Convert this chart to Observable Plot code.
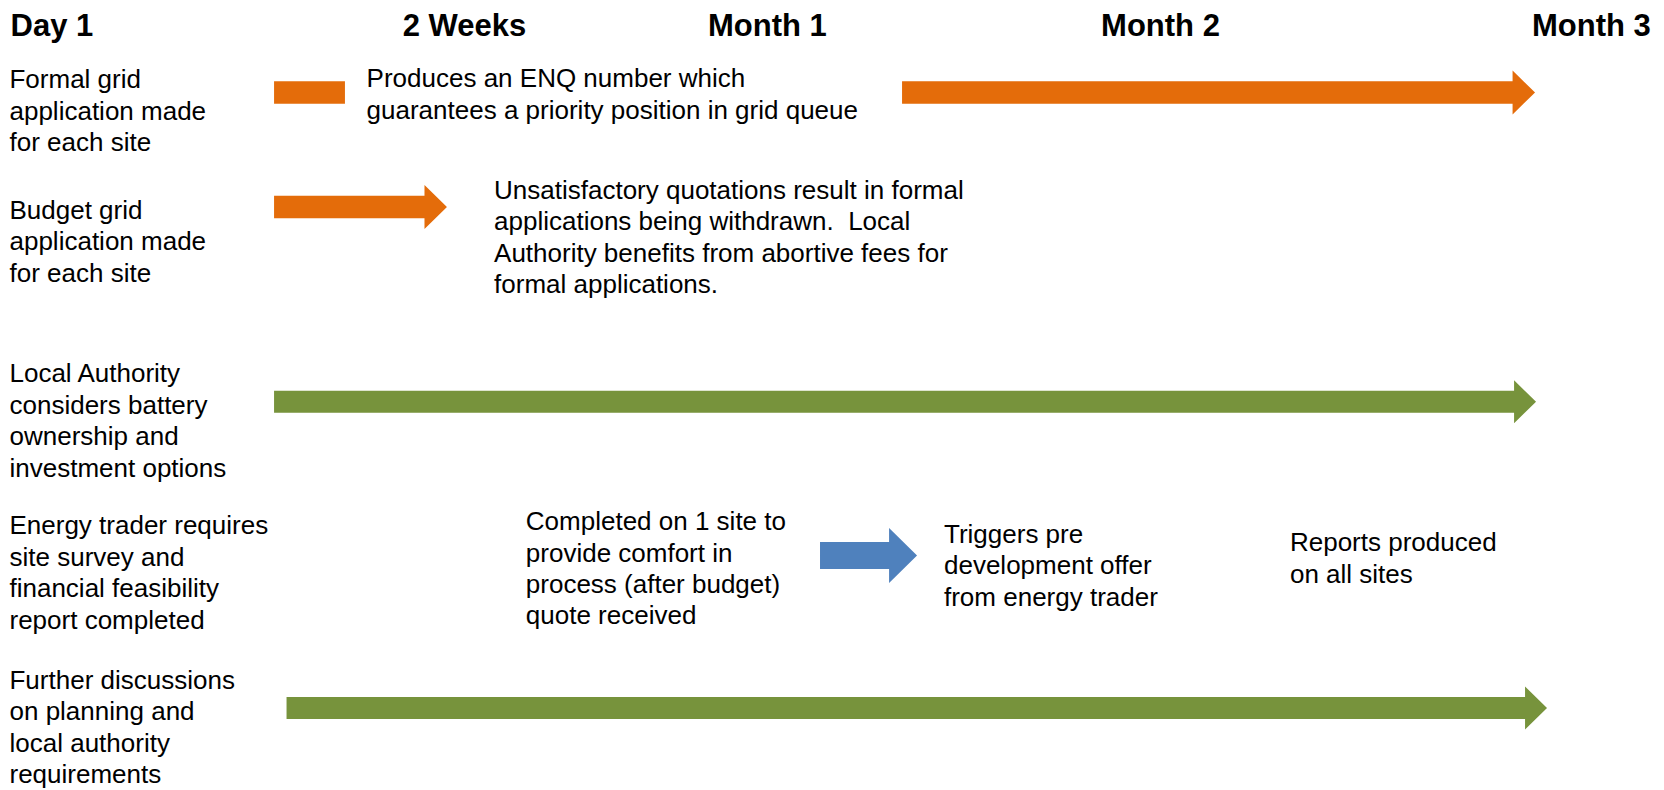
<!DOCTYPE html>
<html>
<head>
<meta charset="utf-8">
<script src="https://cdn.jsdelivr.net/npm/d3@7"></script>
<script src="https://cdn.jsdelivr.net/npm/@observablehq/plot@0.6"></script>
<style>
  html, body { margin: 0; padding: 0; background: #ffffff; }
  #chart svg { display: block; }
</style>
</head>
<body>
<div id="chart"></div>
<script>
// ---- Data (timeline positions as % of slide width / height) ----
const headerLabels = ["Day 1", "2 Weeks", "Month 1", "Month 2", "Month 3"];
const headerX = [3.09, 27.88, 46.09, 69.71, 95.61];

const rowLabels = [
  "Formal grid\napplication made\nfor each site",
  "Budget grid\napplication made\nfor each site",
  "Local Authority\nconsiders battery\nownership and\ninvestment options",
  "Energy trader requires\nsite survey and\nfinancial feasibility\nreport completed",
  "Further discussions\non planning and\nlocal authority\nrequirements"
];
const rowLabelY = [13.84, 30.36, 53.03, 72.27, 91.85];

const noteTexts = [
  "Produces an ENQ number which\nguarantees a priority position in grid queue",
  "Unsatisfactory quotations result in formal\napplications being withdrawn.  Local\nAuthority benefits from abortive fees for\nformal applications.",
  "Completed on 1 site to\nprovide comfort in\nprocess (after budget)\nquote received",
  "Triggers pre\ndevelopment offer\nfrom energy trader",
  "Reports produced\non all sites"
];
const noteX = [22.0, 29.66, 31.57, 56.7, 77.49];
const noteY = [11.69, 29.82, 71.73, 71.33, 70.46];

const arrowStart  = [16.47, 54.21, 16.47, 16.47, 49.28, 17.22];
const arrowEnd    = [20.73, 92.25, 26.86, 92.31, 55.11, 92.97];
const arrowY      = [11.71, 11.71, 26.20, 50.86, 70.32, 89.62];
const arrowSeries = ["grid", "grid", "grid", "planning", "trader", "planning"];
const arrowHasHead = [false, true, true, true, true, true];

// ---- Styles ----
const seriesColor = { grid: "#E46C0A", planning: "#77933C", trader: "#4F81BD" };
const seriesShape = {
  grid:     { body: 1.42, head: 2.78, len: 1.35 },
  planning: { body: 1.40, head: 2.72, len: 1.32 },
  trader:   { body: 1.71, head: 3.48, len: 1.68 }
};
const labelX = 0.54;
const FONT = "'Liberation Sans', Arial, Helvetica, sans-serif";

// ---- Build tables ----
const headers = headerLabels.map((t, i) => ({ text: t, x: headerX[i] }));
const labels = rowLabels.map((t, i) => ({ text: t, y: rowLabelY[i] }));
const notes = noteTexts.map((t, i) => ({ text: t, x: noteX[i], y: noteY[i] }));

const arrowPoints = [];
arrowStart.forEach((x1, i) => {
  const s = seriesShape[arrowSeries[i]];
  const y = arrowY[i];
  const x2 = arrowEnd[i];
  const color = seriesColor[arrowSeries[i]];
  const hs = arrowHasHead[i] ? x2 - s.len : x2;
  arrowPoints.push({ id: i, color, x: x1, y1: y - s.body, y2: y + s.body });
  arrowPoints.push({ id: i, color, x: hs, y1: y - s.body, y2: y + s.body });
  if (arrowHasHead[i]) {
    arrowPoints.push({ id: i, color, x: hs, y1: y - s.head, y2: y + s.head });
    arrowPoints.push({ id: i, color, x: x2, y1: y, y2: y });
  }
});

const chart = Plot.plot({
  width: 1664,
  height: 790,
  margin: 0,
  style: { fontFamily: FONT, background: "#ffffff", color: "#000000" },
  x: { domain: [0, 100], axis: null },
  y: { domain: [0, 100], reverse: true, axis: null },
  color: { type: "identity" },
  marks: [
    Plot.areaY(arrowPoints, {
      x: "x", y1: "y1", y2: "y2", z: "id", fill: "color", curve: "linear"
    }),
    Plot.text(headers, {
      x: "x", y: () => 3.24, text: "text",
      textAnchor: "middle", lineAnchor: "middle",
      fontSize: 31, fontWeight: "bold", fill: "#000000", fontFamily: FONT
    }),
    Plot.text(labels, {
      x: () => labelX, y: "y", text: "text",
      textAnchor: "start", lineAnchor: "middle", lineHeight: 1.21,
      fontSize: 26, fill: "#000000", fontFamily: FONT
    }),
    Plot.text(notes, {
      x: "x", y: "y", text: "text",
      textAnchor: "start", lineAnchor: "middle", lineHeight: 1.21,
      fontSize: 26, fill: "#000000", fontFamily: FONT
    })
  ]
});

document.getElementById("chart").appendChild(chart);
</script>
</body>
</html>
